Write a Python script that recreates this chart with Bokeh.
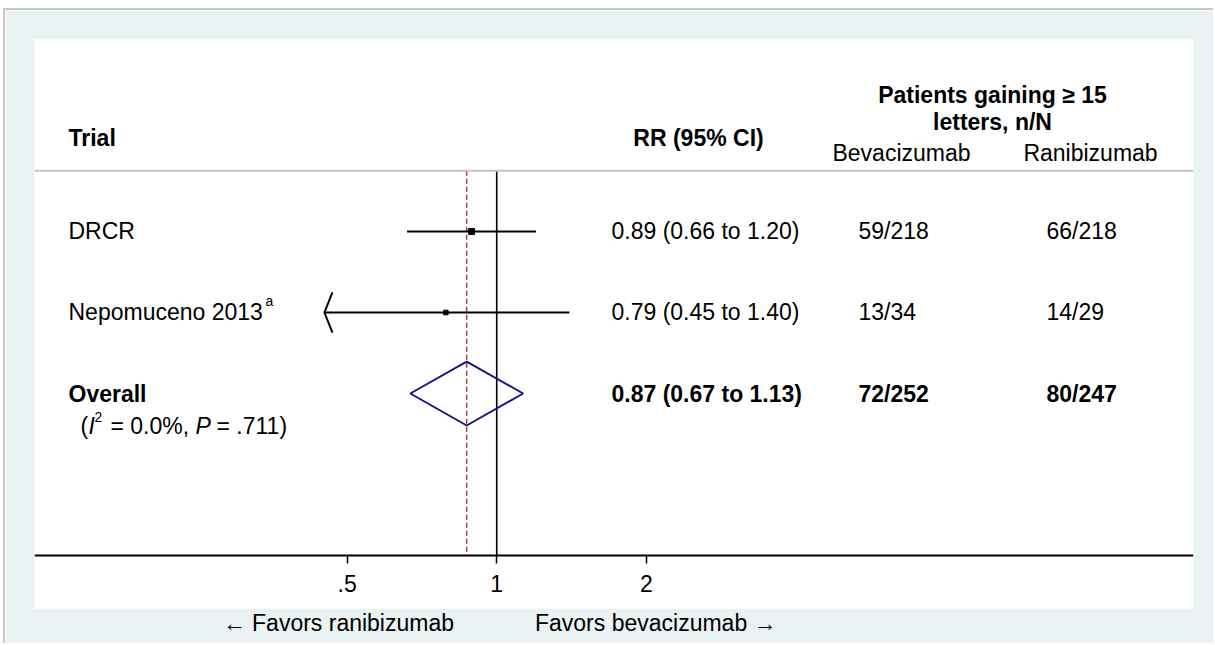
import math
from bokeh.plotting import figure
from bokeh.models import Range1d, LinearScale, LogScale, LogAxis, FixedTicker, Span
from bokeh.core.properties import value
from bokeh.embed import file_html
from bokeh.resources import INLINE

# ---------------- data ----------------
studies = ["DRCR", "Nepomuceno 2013"]
study_notes = ["", "a"]
rr = [0.89, 0.79]
ci_lo = [0.66, 0.45]
ci_hi = [1.20, 1.40]
weights = [78, 22]
bev_n = [59, 13]
bev_N = [218, 34]
ran_n = [66, 14]
ran_N = [218, 29]

overall_label = "Overall"
overall_rr = 0.87
overall_lo = 0.67
overall_hi = 1.13
overall_bev = [72, 252]
overall_ran = [80, 247]
het_i2 = "0.0%"
het_p = ".711"

axis_ticks = [0.5, 1, 2]
axis_tick_labels = [".5", "1", "2"]
favors_labels = ["\u2190 Favors ranibizumab", "Favors bevacizumab \u2192"]

col_headers = ["Trial", "RR (95% CI)", "Patients gaining \u2265 15", "letters, n/N",
               "Bevacizumab", "Ranibizumab"]

# ---------------- layout / style ----------------
FONT = "Liberation Sans"
FS = "23px"
FS_SUP = "14px"
BG_OUT = "#eaf2f3"
NAVY = "#17177f"
RED = "#b03a48"
AXIS_MIN = 0.5            # CIs below this get an arrow
FAV_POS = [0.48, 2.09]    # where the "favors" captions sit on the RR scale

ROW0 = 1                  # first study row
HDR_LINE = 0.25
AXIS_Y = 5
HET_DY = 0.395            # heterogeneity line below the overall row
# table column anchors (in a 0..1159 linear "table" range)
X_STUDY = 34
X_RR = 577
X_BEV = 824
X_RAN = 1012
X_RR_HDR = 664
X_PAT_HDR = 958
X_BEV_HDR = 867
X_RAN_HDR = 1056
SUP_DX = 197

p = figure(width=1210, height=635,
           x_axis_type="log", x_axis_location=None, y_axis_location=None,
           x_range=Range1d(0.1174, 25.26), y_range=Range1d(5.654, -1.370),
           output_backend="svg", toolbar_location=None,
           min_border_left=29, min_border_right=22, min_border_top=29, min_border_bottom=37,
           background_fill_color="white", border_fill_color=BG_OUT,
           outline_line_color=None)
p.styles = {"margin-left": "3px", "margin-top": "8px",
            "border-left": "2px solid #c8c8c8", "border-top": "2px solid #c8c8c8"}
p.x_scale = LogScale()
p.grid.visible = False
p.extra_x_ranges = {"tbl": Range1d(0, 1159)}
p.extra_x_scales = {"tbl": LinearScale()}

# header separator
p.add_layout(Span(location=HDR_LINE, dimension="width", line_color="#c4c4c4", line_width=2))

# reference lines: no effect and overall estimate
p.segment(x0=[1], y0=[HDR_LINE], x1=[1], y1=[AXIS_Y], line_color="black", line_width=1.6)
p.segment(x0=[overall_rr], y0=[HDR_LINE], x1=[overall_rr], y1=[AXIS_Y],
          line_color=RED, line_width=1.5, line_dash="5 3")

rows = [ROW0 + i for i in range(len(studies))]
ov_row = ROW0 + len(studies)

# CI lines
p.segment(x0=ci_lo, y0=rows, x1=ci_hi, y1=rows, line_color="black", line_width=2)
# arrows for CIs that leave the scale
f = 2 ** (8 / 149.5)
arr_xs, arr_ys = [], []
for lo, r in zip(ci_lo, rows):
    if lo < AXIS_MIN:
        arr_xs.append([lo * f, lo, lo * f])
        arr_ys.append([r - 0.247, r, r + 0.247])
if arr_xs:
    p.multi_line(xs=arr_xs, ys=arr_ys, line_color="black", line_width=2)

# point estimates (box size grows with weight)
sizes = [3 + 0.33 * math.sqrt(w) for w in weights]
p.scatter(x=rr, y=rows, size=sizes, marker="square", fill_color="black", line_color="black")

# overall diamond
h = 0.395
p.patch(x=[overall_lo, overall_rr, overall_hi, overall_rr],
        y=[ov_row, ov_row - h, ov_row, ov_row + h],
        fill_color=None, line_color=NAVY, line_width=2)

# axes
ax = LogAxis(fixed_location=AXIS_Y,
             ticker=FixedTicker(ticks=axis_ticks, minor_ticks=[]),
             major_label_overrides=dict(zip(axis_ticks, axis_tick_labels)),
             axis_line_color="black", axis_line_width=2,
             major_tick_line_color="black", major_tick_line_width=1.5,
             major_tick_out=8, major_tick_in=0, minor_tick_line_color=None,
             major_label_standoff=11,
             major_label_text_font=FONT, major_label_text_font_size=FS,
             major_label_text_color="black")
fav = LogAxis(ticker=FixedTicker(ticks=FAV_POS, minor_ticks=[]),
              major_label_overrides=dict(zip(FAV_POS, favors_labels)),
              axis_line_color=None, major_tick_line_color=None, minor_tick_line_color=None,
              major_tick_out=0, major_tick_in=0, major_label_standoff=1,
              major_label_text_font=FONT, major_label_text_font_size=FS,
              major_label_text_color="black")
p.add_layout(ax, "below")
p.add_layout(fav, "below")

common = dict(x_range_name="tbl", text_font=value(FONT), text_color="black",
              text_baseline="middle")

# headers
p.text(x=[X_STUDY], y=[-0.16], text=[col_headers[0]], text_font_size=FS,
       text_font_style="bold", text_align="left", **common)
p.text(x=[X_RR_HDR], y=[-0.16], text=[col_headers[1]], text_font_size=FS,
       text_font_style="bold", text_align="center", **common)
p.text(x=[X_PAT_HDR, X_PAT_HDR], y=[-0.679, -0.346], text=col_headers[2:4], text_font_size=FS,
       text_font_style="bold", text_align="center", **common)
p.text(x=[X_BEV_HDR, X_RAN_HDR], y=[0.025, 0.025], text=col_headers[4:6], text_font_size=FS,
       text_align="center", **common)

# study rows
p.text(x=[X_STUDY] * len(studies), y=rows, text=studies, text_font_size=FS,
       text_align="left", **common)
for s, note, r in zip(studies, study_notes, rows):
    if note:
        p.text(x=[X_STUDY], y=[r], text=[note], text_font_size=FS_SUP, text_align="left",
               x_offset=SUP_DX, y_offset=-11, **common)
rr_txt = [f"{a:.2f} ({b:.2f} to {c:.2f})" for a, b, c in zip(rr, ci_lo, ci_hi)]
p.text(x=[X_RR] * len(rows), y=rows, text=rr_txt, text_font_size=FS, text_align="left", **common)
p.text(x=[X_BEV] * len(rows), y=rows, text=[f"{a}/{b}" for a, b in zip(bev_n, bev_N)],
       text_font_size=FS, text_align="left", **common)
p.text(x=[X_RAN] * len(rows), y=rows, text=[f"{a}/{b}" for a, b in zip(ran_n, ran_N)],
       text_font_size=FS, text_align="left", **common)

# overall row (bold)
ov_txt = [overall_label,
          f"{overall_rr:.2f} ({overall_lo:.2f} to {overall_hi:.2f})",
          f"{overall_bev[0]}/{overall_bev[1]}",
          f"{overall_ran[0]}/{overall_ran[1]}"]
p.text(x=[X_STUDY, X_RR, X_BEV, X_RAN], y=[ov_row] * 4, text=ov_txt, text_font_size=FS,
       text_font_style="bold", text_align="left", **common)

# heterogeneity line: (I^2 = 0.0%, P = .711)
het_y = ov_row + HET_DY
pieces = [("(", 0, 0, FS, "normal"),
          ("I", 8, 0, FS, "italic"),
          ("2", 14, -9, FS_SUP, "normal"),
          (f"= {het_i2},", 30, 0, FS, "normal"),
          ("P", 115, 0, FS, "italic"),
          (f"= {het_p})", 136, 0, FS, "normal")]
for t, dx, dy, fs, st in pieces:
    p.text(x=[X_STUDY + 12], y=[het_y], text=[t], text_font_size=fs, text_font_style=st,
           text_align="left", x_offset=dx, y_offset=dy, **common)

open("out.html", "w").write(file_html(p, INLINE))
